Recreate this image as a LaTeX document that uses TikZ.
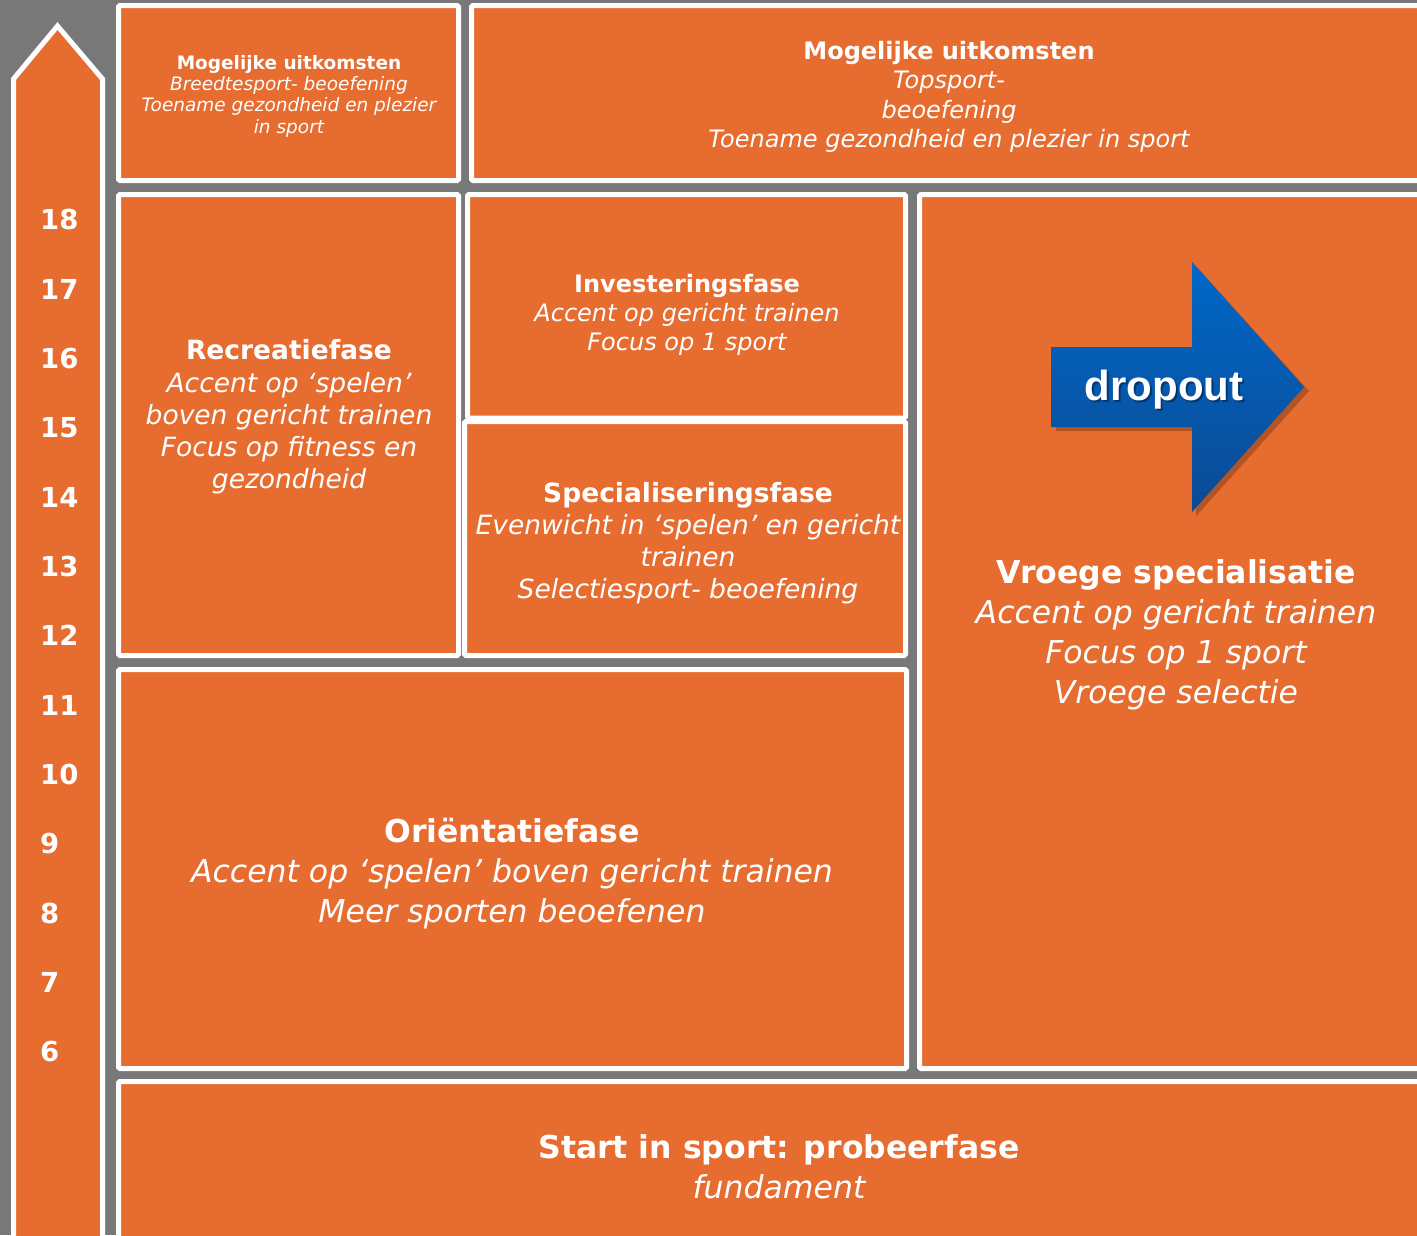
\documentclass[tikz,border=0pt]{standalone}
\usepackage{fontspec}
\setmainfont{DejaVu Sans}[BoldFont={DejaVu Sans Bold},ItalicFont={DejaVu Sans Oblique},BoldItalicFont={DejaVu Sans Bold Oblique}]
\newfontfamily\dropfont{Liberation Sans}
\definecolor{bggray}{HTML}{787878}
\definecolor{phaseor}{HTML}{E66C30}
\definecolor{bluetop}{HTML}{0068C8}
\definecolor{bluebot}{HTML}{0B4A94}
\tikzset{
  phasebox/.style={fill=phaseor,draw=white,line width=5pt,rounded corners=1.5pt},
  phasetxt/.style={text=white,align=center,inner sep=0pt},
  agenum/.style={text=white,anchor=west,inner sep=0pt,font=\fontsize{27.5}{30}\selectfont\bfseries},
}
\begin{document}
\begin{tikzpicture}[x=1pt,y=-1pt]
\useasboundingbox (0,0) rectangle (1417,1235);
\clip (0,0) rectangle (1417,1235);
\fill[bggray] (0,0) rectangle (1417,1235);
% age arrow
\path[phasebox,rounded corners=0pt,line join=miter] (13.5,1260) -- (13.5,79) -- (57.5,26) -- (102.5,79) -- (102.5,1260) -- cycle;
% boxes
\path[phasebox] (118.5,5.5) rectangle (458.5,180.5);
\path[phasebox] (471.5,5.5) rectangle (1430,180.5);
\path[phasebox] (118.5,194.5) rectangle (458.5,655.5);
\path[phasebox] (467.5,194.5) rectangle (905.5,418);
\path[phasebox] (464.5,421.5) rectangle (905.5,655.5);
\path[phasebox] (919.5,194.5) rectangle (1430,1068.5);
\path[phasebox] (118.5,669.5) rectangle (906.5,1068.5);
\path[phasebox] (118.5,1081.5) rectangle (1430,1260);
% ages
\foreach \a/\yy in {18/219.5,17/289.5,16/358.5,15/427.5,14/497.5,13/566.5,12/635.5,11/705.5,10/774.5,9/843.5,8/913.5,7/982.5,6/1051.5}{
  \node[agenum] (age\a) at (40,\yy) {\a};
}
% texts
\node[phasetxt,font=\fontsize{18.5}{21.3}\selectfont] (outBreed) at (289,96)
  {{\bfseries Mogelijke uitkomsten}\\{\itshape Breedtesport- beoefening}\\{\itshape Toename gezondheid en plezier}\\{\itshape in sport}};
\node[phasetxt,font=\fontsize{24}{29.3}\selectfont] (outTop) at (949,97)
  {{\bfseries Mogelijke uitkomsten}\\{\itshape Topsport-}\\{\itshape beoefening}\\{\itshape Toename gezondheid en plezier in sport}};
\node[phasetxt,font=\fontsize{26.5}{32.2}\selectfont] (recreatie) at (289,417)
  {{\bfseries Recreatiefase}\\{\itshape Accent op ‘spelen’}\\{\itshape boven gericht trainen}\\{\itshape Focus op fitness en}\\{\itshape gezondheid}};
\node[phasetxt,font=\fontsize{24}{29}\selectfont] (invest) at (687,314.5)
  {{\bfseries Investeringsfase}\\{\itshape Accent op gericht trainen}\\{\itshape Focus op 1 sport}};
\node[phasetxt,font=\fontsize{26.5}{32}\selectfont] (special) at (688,543)
  {{\bfseries Specialiseringsfase}\\{\itshape Evenwicht in ‘spelen’ en gericht}\\{\itshape trainen}\\{\itshape Selectiesport- beoefening}};
\node[phasetxt,font=\fontsize{31.5}{40}\selectfont] (vroege) at (1176,635)
  {{\bfseries Vroege specialisatie}\\{\itshape Accent op gericht trainen}\\{\itshape Focus op 1 sport}\\{\itshape Vroege selectie}};
\node[phasetxt,font=\fontsize{31.5}{40}\selectfont] (orient) at (512,874)
  {{\bfseries Oriëntatiefase}\\{\itshape Accent op ‘spelen’ boven gericht trainen}\\{\itshape Meer sporten beoefenen}};
\node[phasetxt,font=\fontsize{31.5}{40}\selectfont] (start) at (779,1167)
  {{\bfseries Start in sport: probeerfase}\\{\itshape fundament}};
% dropout arrow
\fill[black,opacity=0.22] (1056,351) -- (1196,351) -- (1196,266) -- (1309,391) -- (1196,516) -- (1196,431) -- (1056,431) -- cycle;
\shade[top color=bluetop,bottom color=bluebot] (1051,347) -- (1192,347) -- (1192,262) -- (1304,387) -- (1192,512) -- (1192,427) -- (1051,427) -- cycle;
\node[text=black,opacity=0.35,inner sep=0pt,font=\fontsize{42}{46}\dropfont\bfseries] at (1166,392) {dropout};
\node[text=white,inner sep=0pt,font=\fontsize{42}{46}\dropfont\bfseries] (dropout) at (1164,390) {dropout};
\end{tikzpicture}
\end{document}
